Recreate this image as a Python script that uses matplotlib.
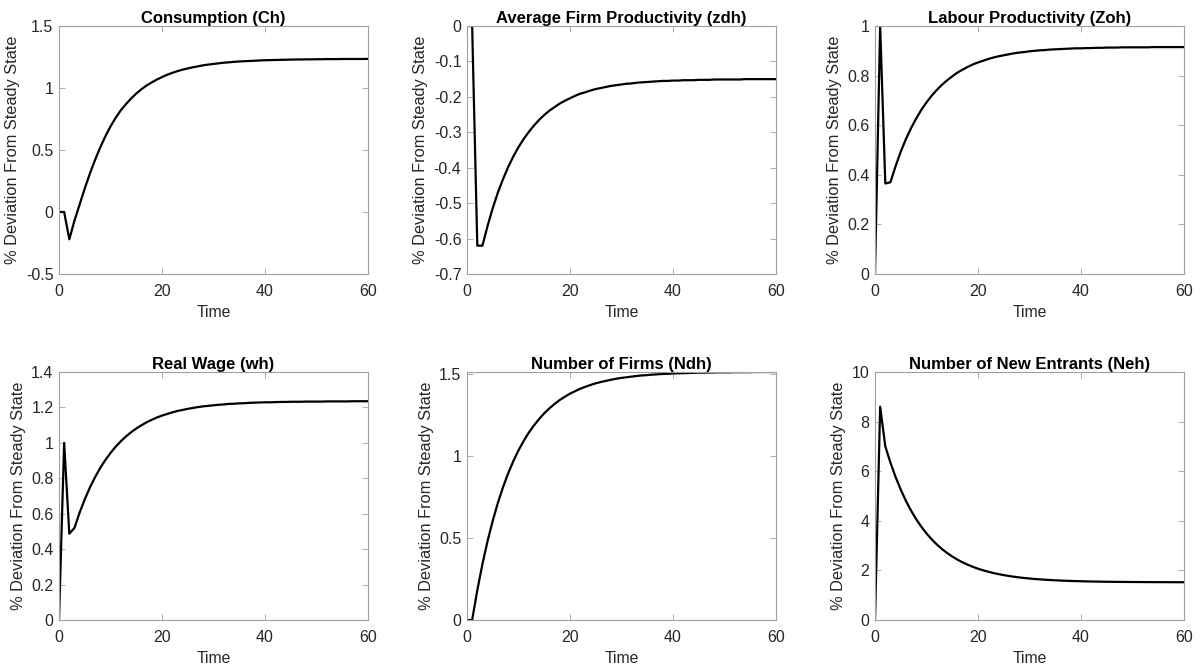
import matplotlib
matplotlib.use("Agg")
import matplotlib.pyplot as plt
from matplotlib.ticker import FuncFormatter

plt.rcParams['font.family'] = ['Liberation Sans', 'DejaVu Sans']
plt.rcParams['axes.unicode_minus'] = False

time = list(range(0, 61))

ch = [0.0, 0.0, -0.220, -0.070, 0.060, 0.190, 0.310, 0.420, 0.520, 0.610, 0.690, 0.760,
      0.820, 0.870, 0.915, 0.955, 0.990, 1.020, 1.045, 1.068, 1.088, 1.107, 1.122, 1.136,
      1.148, 1.158, 1.167, 1.175, 1.183, 1.189, 1.194, 1.199, 1.204, 1.207, 1.211, 1.214,
      1.216, 1.218, 1.220, 1.222, 1.224, 1.225, 1.226, 1.227, 1.228, 1.229, 1.230, 1.230,
      1.231, 1.231, 1.232, 1.232, 1.233, 1.233, 1.233, 1.234, 1.234, 1.234, 1.234, 1.234,
      1.235]

zdh = [0.0, 0.0, -0.620, -0.620, -0.564, -0.514, -0.470, -0.432, -0.398, -0.368, -0.342,
       -0.319, -0.299, -0.281, -0.265, -0.251, -0.239, -0.229, -0.219, -0.211, -0.204,
       -0.197, -0.191, -0.187, -0.182, -0.178, -0.175, -0.172, -0.169, -0.167, -0.165,
       -0.163, -0.162, -0.160, -0.159, -0.158, -0.157, -0.156, -0.155, -0.155, -0.154,
       -0.154, -0.153, -0.153, -0.153, -0.152, -0.152, -0.152, -0.151, -0.151, -0.151,
       -0.151, -0.151, -0.151, -0.150, -0.150, -0.150, -0.150, -0.150, -0.150, -0.150]

zoh = [0.0, 1.000, 0.365, 0.370, 0.435, 0.493, 0.544, 0.588, 0.627, 0.662, 0.692, 0.719,
       0.742, 0.763, 0.781, 0.797, 0.812, 0.824, 0.835, 0.845, 0.853, 0.860, 0.867, 0.873,
       0.878, 0.882, 0.886, 0.890, 0.893, 0.895, 0.898, 0.900, 0.902, 0.903, 0.905, 0.906,
       0.907, 0.908, 0.909, 0.910, 0.910, 0.911, 0.911, 0.912, 0.912, 0.913, 0.913, 0.913,
       0.914, 0.914, 0.914, 0.914, 0.914, 0.914, 0.915, 0.915, 0.915, 0.915, 0.915, 0.915,
       0.915]

wh = [0.0, 1.000, 0.487, 0.520, 0.606, 0.681, 0.748, 0.806, 0.858, 0.903, 0.943, 0.978,
      1.009, 1.036, 1.060, 1.081, 1.099, 1.116, 1.130, 1.143, 1.154, 1.163, 1.172, 1.180,
      1.186, 1.192, 1.197, 1.202, 1.206, 1.209, 1.212, 1.215, 1.217, 1.220, 1.221, 1.223,
      1.224, 1.226, 1.227, 1.228, 1.229, 1.229, 1.230, 1.231, 1.231, 1.232, 1.232, 1.232,
      1.233, 1.233, 1.233, 1.233, 1.234, 1.234, 1.234, 1.234, 1.234, 1.235, 1.235, 1.235,
      1.235]

ndh = [0.0, 0.0, 0.182, 0.342, 0.483, 0.606, 0.716, 0.811, 0.896, 0.970, 1.036, 1.093,
       1.144, 1.188, 1.227, 1.262, 1.292, 1.319, 1.343, 1.363, 1.382, 1.397, 1.412, 1.424,
       1.435, 1.445, 1.453, 1.460, 1.467, 1.473, 1.478, 1.482, 1.486, 1.490, 1.493, 1.495,
       1.498, 1.500, 1.502, 1.503, 1.505, 1.506, 1.507, 1.508, 1.509, 1.510, 1.510, 1.511,
       1.511, 1.512, 1.512, 1.512, 1.513, 1.513, 1.513, 1.513, 1.514, 1.514, 1.514, 1.514,
       1.514]

neh = [0.0, 8.600, 7.000, 6.342, 5.764, 5.255, 4.806, 4.412, 4.065, 3.760, 3.491, 3.254,
       3.046, 2.863, 2.702, 2.560, 2.435, 2.326, 2.229, 2.144, 2.069, 2.003, 1.945, 1.894,
       1.849, 1.810, 1.775, 1.744, 1.717, 1.694, 1.673, 1.654, 1.638, 1.624, 1.612, 1.601,
       1.591, 1.582, 1.575, 1.568, 1.563, 1.557, 1.553, 1.549, 1.545, 1.542, 1.540, 1.537,
       1.535, 1.534, 1.532, 1.531, 1.529, 1.528, 1.527, 1.526, 1.526, 1.525, 1.524, 1.524,
       1.523]

titles = ["Consumption (Ch)", "Average Firm Productivity (zdh)", "Labour Productivity (Zoh)",
          "Real Wage (wh)", "Number of Firms (Ndh)", "Number of New Entrants (Neh)"]
series = [ch, zdh, zoh, wh, ndh, neh]
ylims = [(-0.5, 1.5), (-0.7, 0.0), (0.0, 1.0), (0.0, 1.4), (0.0, max(ndh)), (0.0, 10.0)]
yticks = [[-0.5, 0, 0.5, 1, 1.5],
          [-0.7, -0.6, -0.5, -0.4, -0.3, -0.2, -0.1, 0],
          [0, 0.2, 0.4, 0.6, 0.8, 1],
          [0, 0.2, 0.4, 0.6, 0.8, 1, 1.2, 1.4],
          [0, 0.5, 1, 1.5],
          [0, 2, 4, 6, 8, 10]]
xticks = [0, 20, 40, 60]

W, H = 1203, 670
fig = plt.figure(figsize=(W / 100, H / 100), dpi=100)

lefts = [59, 467, 875]
tops = [26, 372]
bottoms = [274, 620]
width_px = 309

fmt = FuncFormatter(lambda v, p: f"{round(v, 6):g}")
txt = '#262626'
spine = '#a0a0a0'

for i in range(6):
    r, c = divmod(i, 3)
    l = lefts[c]
    t, b = tops[r], bottoms[r]
    ax = fig.add_axes([l / W, 1 - b / H, width_px / W, (b - t) / H])
    ax.plot(time, series[i], color='black', linewidth=1.6)
    ax.set_xlim(0, 60)
    ax.set_ylim(*ylims[i])
    ax.set_xticks(xticks)
    ax.set_yticks(yticks[i])
    ax.xaxis.set_major_formatter(fmt)
    ax.yaxis.set_major_formatter(fmt)
    ax.tick_params(direction='in', top=True, right=True, length=4, width=0.6,
                   color=spine, labelcolor=txt, labelsize=11.5)
    ax.tick_params(axis='x', pad=7.5)
    ax.tick_params(axis='y', pad=4)
    for s in ax.spines.values():
        s.set_color(spine)
        s.set_linewidth(0.8)
    ax.set_title(titles[i], fontsize=12, fontweight='bold', color='black', pad=2)
    ax.set_xlabel("Time", fontsize=11.3, color=txt, labelpad=4)
    ax.set_ylabel("% Deviation From Steady State", fontsize=11.8, color=txt, labelpad=4)

fig.savefig("out.png", dpi=100)
